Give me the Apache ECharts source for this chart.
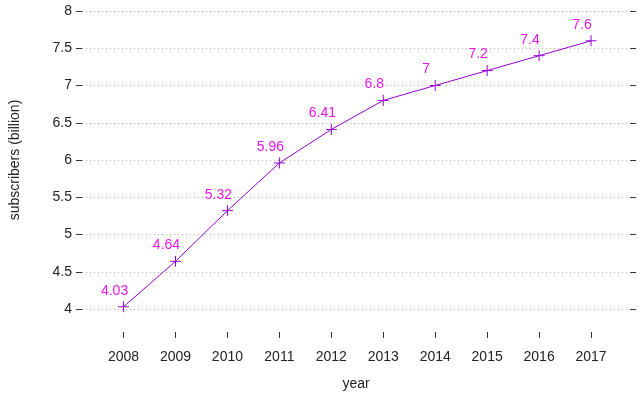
<!DOCTYPE html>
<html>
<head>
<meta charset="utf-8">
<script src="https://cdn.jsdelivr.net/npm/echarts@6/dist/echarts.min.js"></script>
<style>
  html, body { margin: 0; padding: 0; background: #fff; }
  #chart { width: 644px; height: 394px; }
</style>
</head>
<body>
<div id="chart"></div>
<script>
// data
const years = [2008, 2009, 2010, 2011, 2012, 2013, 2014, 2015, 2016, 2017];
const subscribers = [4.03, 4.64, 5.32, 5.96, 6.41, 6.8, 7, 7.2, 7.4, 7.6];

const font = "Liberation Sans, Arial, sans-serif";
const chart = echarts.init(document.getElementById("chart"));

const option = {
  animation: false,
  grid: { left: 82, right: 14, top: 11, bottom: 85, outerBoundsMode: "none", containLabel: false },
  xAxis: {
    type: "value",
    min: 2007.2,
    max: 2017.75,
    offset: 23,
    name: "year",
    nameLocation: "middle",
    nameGap: 45,
    nameTextStyle: { color: "#222", fontSize: 14, fontFamily: font },
    axisLine: { show: false },
    axisTick: { show: true, length: 6, lineStyle: { color: "#333" }, customValues: years },
    axisLabel: { color: "#222", fontSize: 14, fontFamily: font, margin: 18, customValues: years, formatter: v => String(v) },
    splitLine: { show: false }
  },
  yAxis: [
    {
      type: "value",
      min: 4,
      max: 8,
      interval: 0.5,
      name: "subscribers (billion)",
      nameLocation: "middle",
      nameGap: 60,
      nameTextStyle: { color: "#222", fontSize: 14, fontFamily: font },
      axisLine: { show: false },
      axisTick: { show: true, length: 6, lineStyle: { color: "#333" } },
      axisLabel: { color: "#222", fontSize: 14, fontFamily: font, margin: 10 },
      splitLine: { show: true, lineStyle: { color: "#aaa", type: [1, 3], width: 1 } }
    },
    {
      type: "value",
      position: "right",
      min: 4,
      max: 8,
      interval: 0.5,
      axisLine: { show: false },
      axisTick: { show: true, length: 6, lineStyle: { color: "#333" } },
      axisLabel: { show: false },
      splitLine: { show: false }
    }
  ],
  series: [
    {
      type: "line",
      data: years.map((y, i) => [y, subscribers[i]]),
      symbol: "path://M5,0L5,10M0,5L10,5",
      symbolSize: 11,
      itemStyle: { color: "#9400d3", borderColor: "#9400d3", borderWidth: 1 },
      lineStyle: { color: "#9400d3", width: 1 },
      label: {
        show: true,
        position: "top",
        distance: 3,
        offset: [-9, 0],
        color: "#e617e6",
        fontSize: 14,
        fontFamily: font,
        formatter: p => String(p.data[1])
      }
    }
  ]
};
chart.setOption(option);
</script>
</body>
</html>
